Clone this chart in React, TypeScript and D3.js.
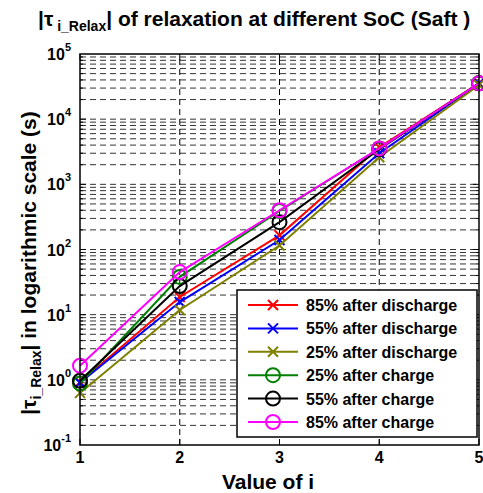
import React from "react";
import * as d3 from "d3";

const xValues = [1, 2, 3, 4, 5];
const seriesNames = [
  "85% after discharge",
  "55% after discharge",
  "25% after discharge",
  "25% after charge",
  "55% after charge",
  "85% after charge",
];
const seriesColors = ["#ff0000", "#0000ff", "#808000", "#008000", "#000000", "#ff00ff"];
const seriesMarkers = ["x", "x", "x", "o", "o", "o"];
const d85dis = [0.92, 18.7, 165, 3700, 35500];
const d55dis = [0.9, 15.6, 140, 3000, 35000];
const d25dis = [0.63, 11.8, 115, 2600, 33500];
const c25 = [0.88, 38, 390, 3550, 35500];
const c55 = [0.97, 27.5, 263, 3450, 35500];
const c85 = [1.65, 45, 400, 3560, 35500];
const seriesValues = [d85dis, d55dis, d25dis, c25, c55, c85];
const xTicks = [1, 2, 3, 4, 5];
const yExps = [-1, 0, 1, 2, 3, 4, 5];

const W = 483;
const H = 493;
const m = { left: 80, right: 4, top: 54, bottom: 48 };
const FONT = "'Liberation Sans', Arial, sans-serif";

export default function App() {
  const x = d3.scaleLinear().domain([1, 5]).range([m.left, W - m.right]);
  const y = d3.scaleLog().domain([0.1, 100000]).range([H - m.bottom, m.top]);
  const x0 = m.left, x1 = W - m.right, y0 = H - m.bottom, y1 = m.top;

  const gridVals: number[] = [];
  for (let e = -1; e < 5; e++) {
    for (let k = 1; k <= 9; k++) {
      if (e === -1 && k === 1) continue;
      gridVals.push(k * Math.pow(10, e));
    }
  }

  const line = d3
    .line<number>()
    .x((_, i) => x(xValues[i]))
    .y((d) => y(d));

  const marker = (type: string, cx: number, cy: number, color: string, key: string) =>
    type === "x" ? (
      <path
        key={key}
        d={`M${cx - 5},${cy - 5}L${cx + 5},${cy + 5}M${cx - 5},${cy + 5}L${cx + 5},${cy - 5}`}
        stroke={color}
        strokeWidth={2}
        fill="none"
      />
    ) : (
      <circle key={key} cx={cx} cy={cy} r={7} stroke={color} strokeWidth={2} fill="none" />
    );

  const lgX = 237, lgY = 290, lgW = 240, lgH = 147, rowH = 23.4;

  return (
    <svg width={W} height={H} style={{ position: "absolute", left: 0, top: 0, background: "#fff" }} fontFamily={FONT}>
      <rect x={0} y={0} width={W} height={H} fill="#fff" />
      {/* grid */}
      {gridVals.map((v, i) => (
        <line key={"g" + i} x1={x0} x2={x1} y1={y(v)} y2={y(v)} stroke="#333" strokeWidth={1} strokeDasharray="6,4" />
      ))}
      {[2, 3, 4].map((v) => (
        <line key={"vg" + v} x1={x(v)} x2={x(v)} y1={y0} y2={y1} stroke="#000" strokeWidth={1} strokeDasharray="6,4" />
      ))}
      {/* minor ticks y */}
      {gridVals.map((v, i) => {
        const major = Math.abs(Math.log10(v) - Math.round(Math.log10(v))) < 1e-9;
        const len = major ? 6 : 3;
        return (
          <g key={"t" + i}>
            <line x1={x0} x2={x0 + len} y1={y(v)} y2={y(v)} stroke="#000" />
            <line x1={x1} x2={x1 - len} y1={y(v)} y2={y(v)} stroke="#000" />
          </g>
        );
      })}
      {xTicks.map((v) => (
        <g key={"xt" + v}>
          <line x1={x(v)} x2={x(v)} y1={y0} y2={y0 - 6} stroke="#000" />
          <line x1={x(v)} x2={x(v)} y1={y1} y2={y1 + 6} stroke="#000" />
        </g>
      ))}
      {/* series */}
      {seriesValues.map((vals, si) => (
        <g key={"s" + si}>
          <path d={line(vals) || ""} stroke={seriesColors[si]} strokeWidth={2} fill="none" />
          {vals.map((v, i) => marker(seriesMarkers[si], x(xValues[i]), y(v), seriesColors[si], "m" + si + "_" + i))}
        </g>
      ))}
      {/* axes box */}
      <rect x={x0} y={y1} width={x1 - x0} height={y0 - y1} fill="none" stroke="#000" strokeWidth={1.5} />
      {/* x tick labels */}
      {xTicks.map((v) => (
        <text key={"xl" + v} x={x(v)} y={y0 + 18} textAnchor="middle" fontSize={16} fontWeight="bold">
          {v}
        </text>
      ))}
      {/* y tick labels */}
      {yExps.map((e) => (
        <text key={"yl" + e} x={x0 - 9} y={y(Math.pow(10, e)) + 6} textAnchor="end" fontSize={16} fontWeight="bold">
          10
          <tspan dy={-9} fontSize={11}>
            {e}
          </tspan>
        </text>
      ))}
      {/* legend */}
      <rect x={lgX} y={lgY} width={lgW} height={lgH} fill="#fff" stroke="#000" strokeWidth={1.5} />
      {seriesNames.map((name, si) => {
        const cy = lgY + 15 + si * rowH;
        return (
          <g key={"lg" + si}>
            <line x1={248} x2={298} y1={cy} y2={cy} stroke={seriesColors[si]} strokeWidth={2} />
            {marker(seriesMarkers[si], 273, cy, seriesColors[si], "lm" + si)}
            <text x={306} y={cy + 6} fontSize={16} fontWeight="bold">
              {name}
            </text>
          </g>
        );
      })}
      {/* title */}
      <text x={38} y={26} fontSize={21} fontWeight="bold">
        |τ
        <tspan dy={5} fontSize={14}> i_Relax</tspan>
        <tspan dy={-5}>| of relaxation at different SoC (Saft )</tspan>
      </text>
      {/* x label */}
      <text x={268} y={489} textAnchor="middle" fontSize={21} fontWeight="bold">
        Value of i
      </text>
      {/* y label */}
      <text transform={`translate(36,${263}) rotate(-90)`} textAnchor="middle" fontSize={21} fontWeight="bold">
        |τ
        <tspan dy={5} fontSize={14}>i_Relax</tspan>
        <tspan dy={-5}>| in logarithmic scale (s)</tspan>
      </text>
    </svg>
  );
}
